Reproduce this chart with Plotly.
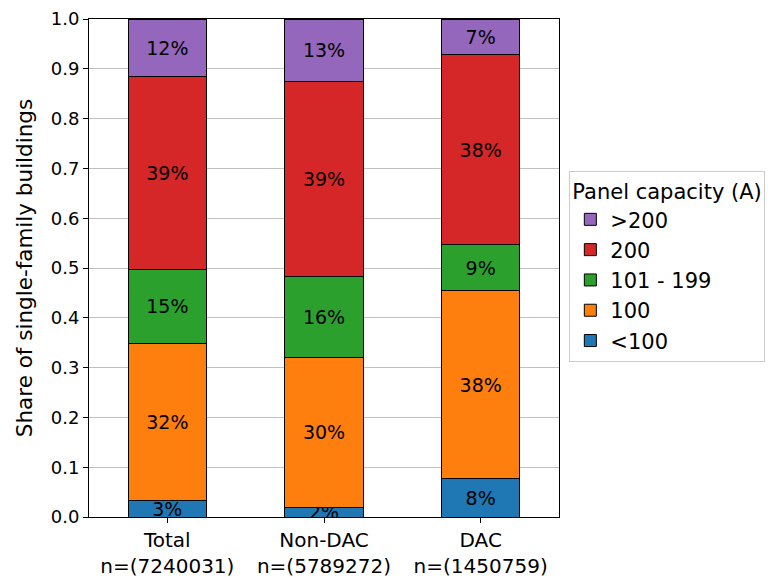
import plotly.graph_objects as go

# groups shown on the x axis, with building counts
groups = ["Total", "Non-DAC", "DAC"]
n_buildings = [7240031, 5789272, 1450759]

# share of single-family buildings per panel capacity class (bottom -> top)
capacity_classes = ["<100", "100", "101 - 199", "200", ">200"]
share_lt100 = [0.033, 0.019, 0.078]
share_100 = [0.316, 0.302, 0.376]
share_101_199 = [0.148, 0.162, 0.093]
share_200 = [0.388, 0.391, 0.381]
share_gt200 = [0.115, 0.126, 0.072]

y_ticks = [round(0.1 * i, 1) for i in range(11)]

shares = [share_lt100, share_100, share_101_199, share_200, share_gt200]
colors = ["#1f77b4", "#ff7f0e", "#2ca02c", "#d62728", "#9467bd"]
tick_text = [f"{g}<br>n=({n})" for g, n in zip(groups, n_buildings)]

FONT = "DejaVu Sans"

fig = go.Figure()
for name, vals, col in zip(capacity_classes, shares, colors):
    fig.add_trace(go.Bar(
        x=groups, y=vals, name=name, width=0.5,
        marker=dict(color=col, line=dict(color="black", width=1)),
        texttemplate="%{y:.0%}", textposition="inside",
        insidetextanchor="middle", constraintext="none",
        textfont=dict(family=FONT, size=19, color="black"),
        cliponaxis=True,
    ))

# the page body adds an 8px margin, so the figure is made 8px smaller
fig.update_layout(
    barmode="stack",
    width=768, height=569,
    margin=dict(l=81, r=211, t=11, b=60),
    plot_bgcolor="white", paper_bgcolor="white",
    font=dict(family=FONT, size=19, color="black"),
    legend=dict(
        title=dict(text="Panel capacity (A)", font=dict(size=21)),
        traceorder="reversed",
        x=1.022, xanchor="left", y=0.695, yanchor="top",
        bordercolor="#cccccc", borderwidth=1,
        font=dict(size=21), bgcolor="white",
    ),
    showlegend=True,
)
fig.update_xaxes(
    type="category", range=[-0.5, 2.5],
    tickvals=groups, ticktext=tick_text,
    showline=True, linecolor="black", linewidth=1, mirror=True,
    ticks="outside", ticklen=5, tickcolor="black",
    showgrid=False, tickfont=dict(size=20), automargin=False,
)
fig.update_yaxes(
    range=[0, 1], tickvals=y_ticks, tickformat=".1f",
    showline=True, linecolor="black", linewidth=1, mirror=True,
    ticks="outside", ticklen=5, tickcolor="black",
    showgrid=True, gridcolor="#c0c0c0", gridwidth=1,
    zeroline=False, tickfont=dict(size=18), automargin=False,
    ticklabeloverflow="allow",
    title=dict(text="Share of single-family buildings", font=dict(size=21.5), standoff=12),
)

fig.write_html("out.html")
